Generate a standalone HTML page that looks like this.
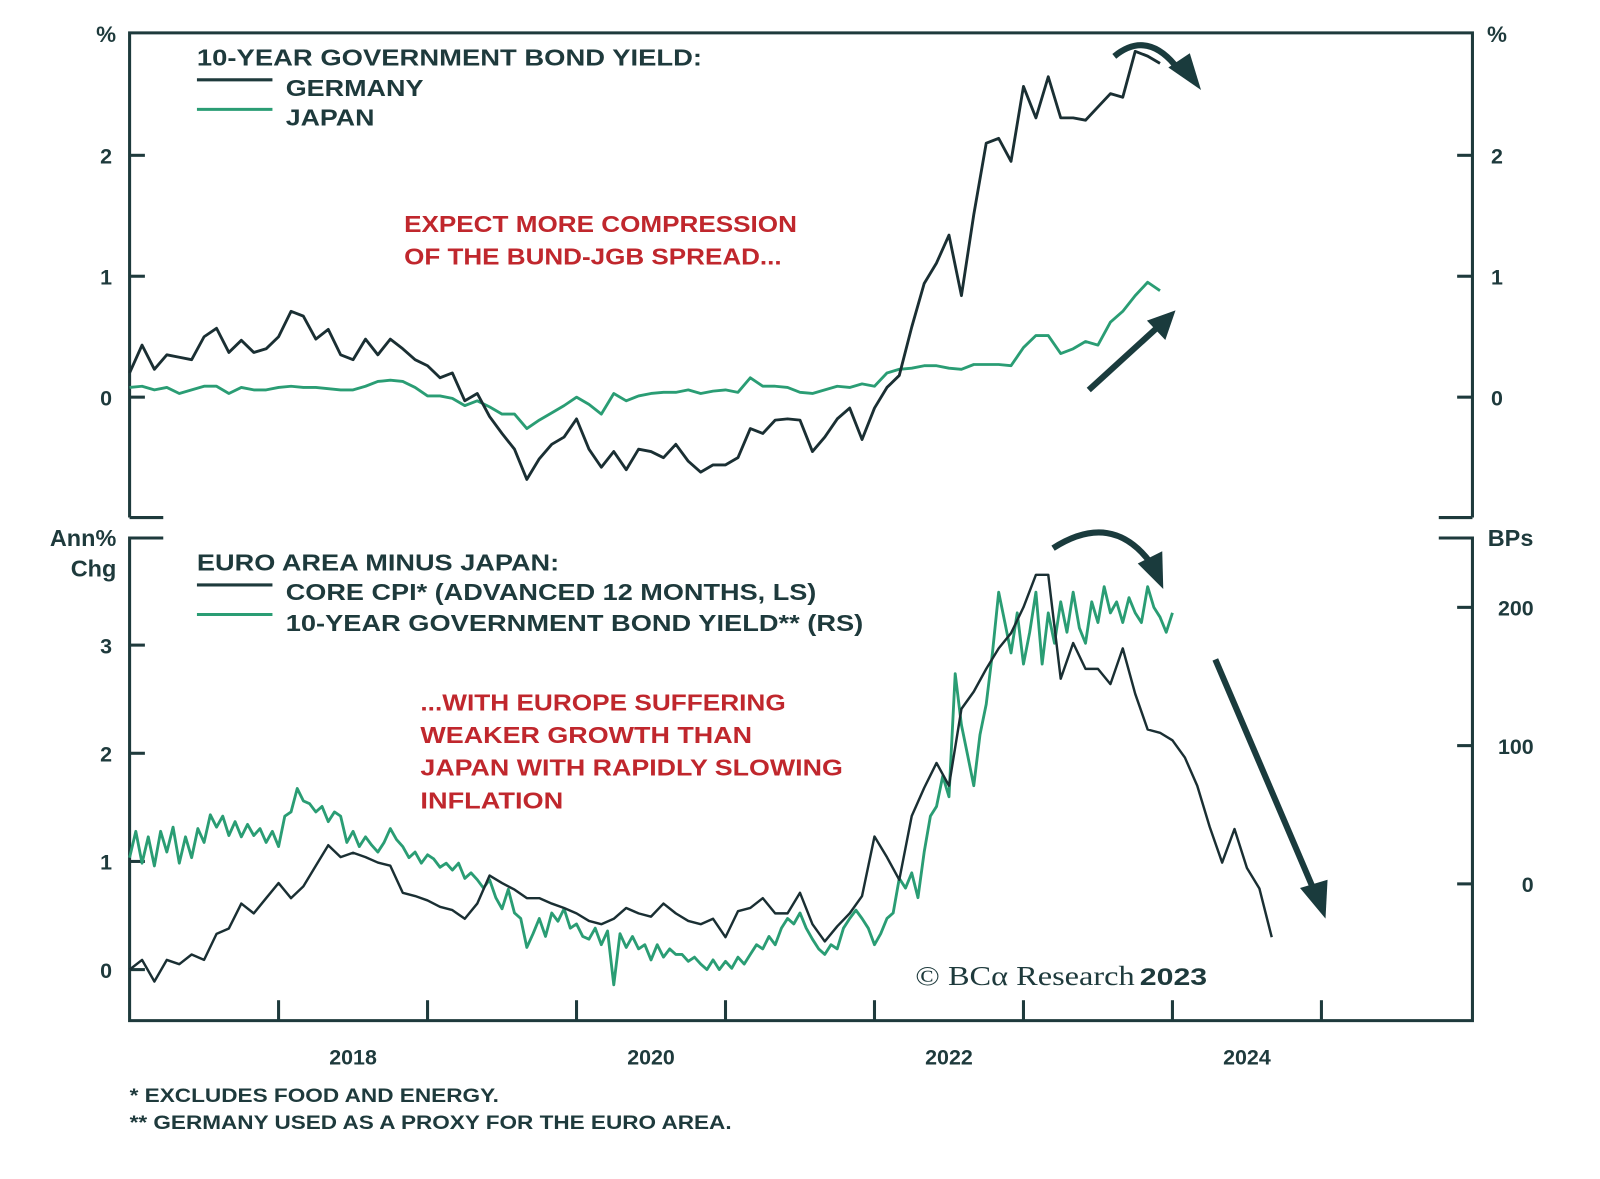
<!DOCTYPE html>
<html><head><meta charset="utf-8"><style>
html,body{margin:0;padding:0;background:#fff;}
svg{display:block;}
text{font-family:"Liberation Sans",sans-serif;font-weight:bold;fill:#1e3a3c;}
.red{fill:#c0272d;}
</style></head><body>
<svg id="chart" width="1600" height="1179" viewBox="0 0 1568 1155">
<g id="frame" stroke="#1e3a3c" stroke-width="3" fill="none">
<path d="M127 507 L127 32 L1443 32 L1443 507" />
<path d="M127 507 L160 507 M1410 507 L1443 507" />
<path d="M160 527 L127 527 L127 1000 L1443 1000 L1443 527 L1410 527" />
</g>
<g id="axes"></g>
<g id="series"></g>
<g>
<text x="193" y="64" font-size="23" textLength="495" lengthAdjust="spacingAndGlyphs">10-YEAR GOVERNMENT BOND YIELD:</text>
<line x1="193" y1="78" x2="267" y2="78" stroke="#1e3a3c" stroke-width="3"/>
<text x="280" y="94" font-size="23" textLength="135" lengthAdjust="spacingAndGlyphs">GERMANY</text>
<line x1="193" y1="107" x2="267" y2="107" stroke="#2a9d74" stroke-width="3"/>
<text x="280" y="123" font-size="23" textLength="87" lengthAdjust="spacingAndGlyphs">JAPAN</text>
</g>
<g>
<text class="red" x="396" y="227" font-size="23" textLength="385" lengthAdjust="spacingAndGlyphs">EXPECT MORE COMPRESSION</text>
<text class="red" x="396" y="259" font-size="23" textLength="370" lengthAdjust="spacingAndGlyphs">OF THE BUND-JGB SPREAD...</text>
</g>
<g>
<text x="193" y="559" font-size="23" textLength="355" lengthAdjust="spacingAndGlyphs">EURO AREA MINUS JAPAN:</text>
<line x1="193" y1="573" x2="267" y2="573" stroke="#1e3a3c" stroke-width="3"/>
<text x="280" y="588" font-size="23" textLength="520" lengthAdjust="spacingAndGlyphs">CORE CPI* (ADVANCED 12 MONTHS, LS)</text>
<line x1="193" y1="602" x2="267" y2="602" stroke="#2a9d74" stroke-width="3"/>
<text x="280" y="618" font-size="23" textLength="566" lengthAdjust="spacingAndGlyphs">10-YEAR GOVERNMENT BOND YIELD** (RS)</text>
</g>
<g>
<text class="red" x="412" y="696" font-size="23" textLength="358" lengthAdjust="spacingAndGlyphs">...WITH EUROPE SUFFERING</text>
<text class="red" x="412" y="728" font-size="23" textLength="325" lengthAdjust="spacingAndGlyphs">WEAKER GROWTH THAN</text>
<text class="red" x="412" y="760" font-size="23" textLength="414" lengthAdjust="spacingAndGlyphs">JAPAN WITH RAPIDLY SLOWING</text>
<text class="red" x="412" y="792" font-size="23" textLength="140" lengthAdjust="spacingAndGlyphs">INFLATION</text>
</g>
<text x="104" y="41" font-size="22" text-anchor="middle">%</text>
<text x="1467" y="41" font-size="22" text-anchor="middle">%</text>
<text x="114" y="535" font-size="23" text-anchor="end">Ann%</text>
<text x="114" y="565" font-size="23" text-anchor="end">Chg</text>
<text x="1458" y="535" font-size="23">BPs</text>
<text x="897" y="965" font-size="27" font-family="Liberation Serif" style="font-family:'Liberation Serif',serif;font-weight:normal" textLength="215" lengthAdjust="spacingAndGlyphs">© BCα Research</text>
<text x="1117" y="965" font-size="24" textLength="66" lengthAdjust="spacingAndGlyphs">2023</text>
<text x="127" y="1080" font-size="19" textLength="362" lengthAdjust="spacingAndGlyphs">* EXCLUDES FOOD AND ENERGY.</text>
<text x="127" y="1106" font-size="19" textLength="590" lengthAdjust="spacingAndGlyphs">**  GERMANY USED AS A PROXY FOR THE EURO AREA.</text>
<g stroke="#1a3b3d" fill="none" stroke-width="6">
<path d="M1092 55 Q1125 28 1155 68"/>
<polygon points="1145,66 1177,88 1166,52" fill="#1a3b3d" stroke="none"/>
<path d="M1067 382 L1135 320"/>
<polygon points="1152,304 1124,314 1142,333" fill="#1a3b3d" stroke="none"/>
<path d="M1032 537 Q1090 500 1128 552"/>
<polygon points="1115,552 1140,577 1139,540" fill="#1a3b3d" stroke="none"/>
<path d="M1191 646 L1288 873"/>
<polygon points="1299,900 1274,870 1301,862" fill="#1a3b3d" stroke="none"/>
</g>
</svg>
<script>
const germanyYield = [0.20,0.43,0.23,0.35,0.33,0.31,0.50,0.57,0.37,0.47,0.37,0.40,0.50,0.71,0.67,0.48,0.56,0.35,0.31,0.48,0.35,0.48,0.40,0.31,0.26,0.16,0.20,-0.03,0.03,-0.16,-0.30,-0.43,-0.68,-0.51,-0.39,-0.33,-0.18,-0.43,-0.58,-0.45,-0.60,-0.43,-0.45,-0.50,-0.39,-0.53,-0.62,-0.56,-0.56,-0.50,-0.26,-0.30,-0.19,-0.18,-0.19,-0.45,-0.33,-0.18,-0.09,-0.35,-0.09,0.08,0.18,0.58,0.94,1.11,1.34,0.84,1.51,2.10,2.14,1.95,2.57,2.31,2.65,2.31,2.31,2.29,2.40,2.51,2.48,2.86,2.82,2.76];
const japanYield = [0.08,0.09,0.06,0.08,0.03,0.06,0.09,0.09,0.03,0.08,0.06,0.06,0.08,0.09,0.08,0.08,0.07,0.06,0.06,0.09,0.13,0.14,0.13,0.08,0.01,0.01,-0.01,-0.07,-0.03,-0.08,-0.14,-0.14,-0.26,-0.19,-0.13,-0.07,0,-0.06,-0.14,0.03,-0.03,0.01,0.03,0.04,0.04,0.06,0.03,0.05,0.06,0.04,0.16,0.09,0.09,0.08,0.04,0.03,0.06,0.09,0.08,0.11,0.09,0.20,0.23,0.24,0.26,0.26,0.24,0.23,0.27,0.27,0.27,0.26,0.41,0.51,0.51,0.36,0.40,0.46,0.43,0.62,0.71,0.84,0.95,0.88];
const coreCpiSpread = [0,0.09,-0.11,0.09,0.05,0.14,0.09,0.33,0.38,0.61,0.52,0.66,0.80,0.66,0.77,0.96,1.15,1.04,1.08,1.04,0.99,0.96,0.71,0.68,0.64,0.58,0.55,0.47,0.61,0.87,0.80,0.74,0.66,0.66,0.61,0.57,0.52,0.45,0.42,0.47,0.57,0.52,0.49,0.61,0.52,0.45,0.42,0.47,0.30,0.54,0.57,0.66,0.52,0.52,0.71,0.42,0.26,0.40,0.52,0.68,1.23,1.04,0.83,1.42,1.68,1.91,1.70,2.41,2.57,2.78,2.97,3.11,3.35,3.65,3.65,2.69,3.02,2.78,2.78,2.64,2.97,2.55,2.22,2.19,2.12,1.96,1.70,1.32,0.99,1.30,0.94,0.75,0.30];
const yieldSpreadBp = [19,38,15,34,13,38,23,41,15,34,19,40,30,50,41,49,35,45,34,43,35,40,30,38,27,49,52,69,60,58,52,56,45,52,49,30,38,27,34,28,23,30,40,32,27,19,23,15,21,18,12,15,10,15,4,8,3,-3,3,-10,-18,-4,-21,-25,-46,-36,-25,-38,-21,-27,-18,-32,-29,-38,-40,-32,-44,-34,-73,-36,-46,-38,-47,-44,-55,-44,-53,-47,-51,-51,-56,-53,-58,-62,-55,-62,-56,-61,-53,-58,-51,-44,-47,-38,-44,-32,-25,-29,-21,-32,-40,-47,-51,-44,-47,-32,-25,-19,-25,-32,-44,-36,-25,-21,4,-3,8,-10,23,49,56,78,63,152,115,93,71,108,130,167,211,189,167,196,159,182,211,159,196,174,204,182,211,185,174,204,189,215,196,204,189,207,196,189,215,200,193,182,196];
const startYear = 2017;
const topTicks = [0,1,2];
const cpiTicks = [0,1,2,3];
const bpTicks = [0,100,200];
const yearTicks = [2018,2019,2020,2021,2022,2023,2024,2025];
const yearLabels = [2018,2020,2022,2024];

const NS='http://www.w3.org/2000/svg';
const xOf = yr => 127 + 146*(yr-2017);
const yTop = v => 389 - 118.5*v;
const yCpi = v => 950 - 106*v;
const yBp = v => 866 - 1.355*v;
function mk(tag, attrs, parent){const e=document.createElementNS(NS,tag);for(const k in attrs)e.setAttribute(k,attrs[k]);parent.appendChild(e);return e;}
const axes=document.getElementById('axes'), series=document.getElementById('series');
topTicks.forEach(v=>{
  const l=mk('line',{x1:127,x2:142,y1:yTop(v),y2:yTop(v),stroke:'#1e3a3c','stroke-width':3},axes);
  
  
  const r=mk('line',{x1:1428,x2:1443,y1:yTop(v),y2:yTop(v),stroke:'#1e3a3c','stroke-width':3},axes);
  
  
  const t=mk('text',{x:104,y:yTop(v)+8,'font-size':21,'text-anchor':'middle'},axes);t.textContent=v;
  
  
  const t2=mk('text',{x:1467,y:yTop(v)+8,'font-size':21,'text-anchor':'middle'},axes);t2.textContent=v;
  
  
});
cpiTicks.forEach(v=>{
  const l=mk('line',{x1:127,x2:142,y1:yCpi(v),y2:yCpi(v),stroke:'#1e3a3c','stroke-width':3},axes);
  
  
  const t=mk('text',{x:104,y:yCpi(v)+8,'font-size':21,'text-anchor':'middle'},axes);t.textContent=v;
  
  
});
bpTicks.forEach(v=>{
  const l=mk('line',{x1:1428,x2:1443,y1:yBp(v),y2:yBp(v),stroke:'#1e3a3c','stroke-width':3},axes);
  
  
  const t=mk('text',{x:1503,y:yBp(v)+8,'font-size':21,'text-anchor':'end'},axes);t.textContent=v;
  
  
});
yearTicks.forEach(y=>{
  const l=mk('line',{x1:xOf(y),x2:xOf(y),y1:980,y2:1000,stroke:'#1e3a3c','stroke-width':3},axes);
  
  
});
yearLabels.forEach(y=>{
  const t=mk('text',{x:xOf(y+0.5),y:1043,'font-size':21,'text-anchor':'middle'},axes);t.textContent=y;
  
  
});
function line(vals, step, yf, color, w, name){
  const d=vals.map((v,i)=>(i?'L':'M')+xOf(startYear+i*step).toFixed(1)+' '+yf(v).toFixed(1)).join(' ');
  const p=mk('path',{d:d,fill:'none',stroke:color,'stroke-width':w,'stroke-linejoin':'round'},series);
  
  
}
line(japanYield,1/12,yTop,'#2a9d74',2.8,'japan-yield-line');
line(germanyYield,1/12,yTop,'#1a2f33',2.8,'germany-yield-line');
line(yieldSpreadBp,1/24,yBp,'#2a9d74',2.8,'yield-spread-line');
line(coreCpiSpread,1/12,yCpi,'#1a2f33',2.4,'core-cpi-spread-line');
</script>
</body></html>
